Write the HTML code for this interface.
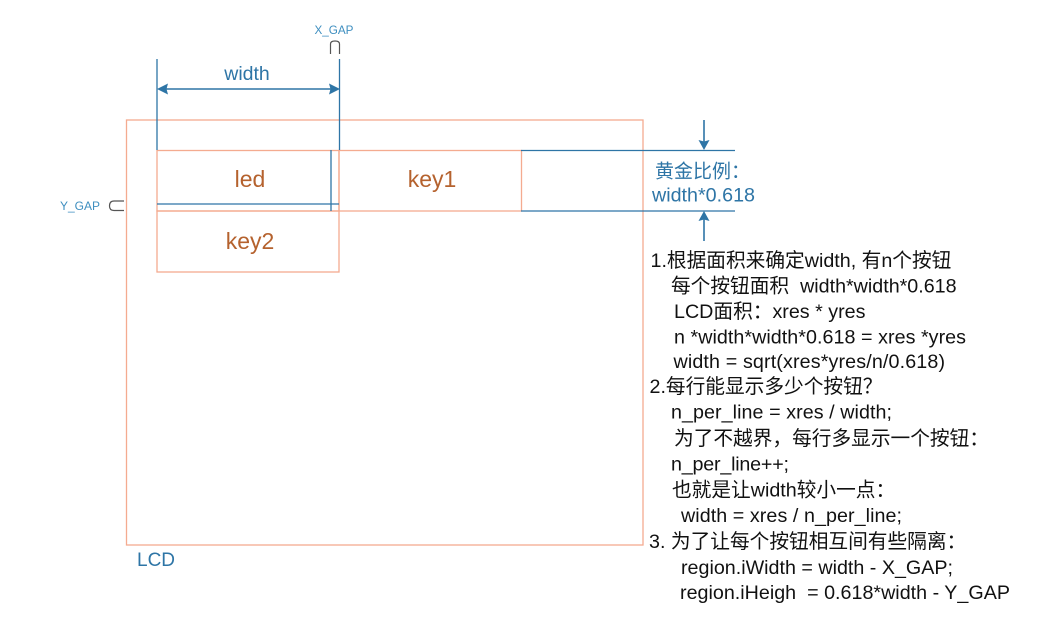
<!DOCTYPE html>
<html><head><meta charset="utf-8"><style>
html,body{margin:0;padding:0;background:#fff;width:1044px;height:634px;overflow:hidden}
svg{position:absolute;left:0;top:0}
text{font-family:"Liberation Sans","Noto Sans CJK SC",sans-serif;white-space:pre}
.b{fill:#2e75a6}.o{fill:#b5622e;font-size:23px;text-anchor:middle}
.k{fill:#111;font-size:19.7px}
</style></head><body>
<svg width="1044" height="634" viewBox="0 0 1044 634" xml:space="preserve">
<g fill="none" stroke="#f4ab90" stroke-width="1.3">
<rect x="126.500" y="120" width="516.500" height="425"/>
<rect x="157" y="150.500" width="182" height="60.500"/>
<rect x="339" y="150.500" width="182.500" height="60.500"/>
<rect x="157" y="211" width="182" height="61"/>
</g>
<g fill="none" stroke="#2e75a6" stroke-width="1.3">
<path d="M157 59V150M339.500 59V150M331 150V211M157 204H339M521 150.500H735M521 211H735"/>
<path d="M160 89H336" stroke-width="1.600"/>
<path d="M704 120V142M704 219V241" stroke-width="1.600"/>
</g>
<g fill="#2e75a6">
<path d="M157 89L168 83.500L166.500 89L168 94.500Z"/><path d="M340 89L329 83.500L330.500 89L329 94.500Z"/>
<path d="M704 150L698.500 140L704 141.500L709.500 140Z"/><path d="M704 211L698.500 221L704 219.500L709.500 221Z"/>
</g>
<g fill="none" stroke="#555" stroke-width="1.200">
<path d="M330.500 54V44Q330.500 41 335 41Q339.500 41 339.500 44V54"/>
<path d="M124 201H114Q109.500 201 109.500 206Q109.500 210.500 114 210.500H124"/>
</g>
<text x="334" y="34" text-anchor="middle" font-size="11.700" fill="#3f8fc0">X_GAP</text>
<text x="80" y="210" text-anchor="middle" font-size="12" fill="#3f8fc0">Y_GAP</text>
<text x="247" y="80" text-anchor="middle" font-size="19.500" class="b">width</text>
<text x="250" y="187" class="o">led</text>
<text x="432" y="187" class="o">key1</text>
<text x="250" y="249" class="o">key2</text>
<text x="137" y="566" font-size="19" class="b">LCD</text>
<text x="655" y="177.500" font-size="19" class="b">黄金比例：</text>
<text x="652" y="201.500" font-size="19.700" class="b" textLength="103">width*0.618</text>
<g class="k">
<text x="650.500" y="267">1.根据面积来确定width, 有n个按钮</text>
<text x="671" y="292.500">每个按钮面积  width*width*0.618</text>
<text x="674" y="318">LCD面积：xres * yres</text>
<text x="674" y="343.500" textLength="292">n *width*width*0.618 = xres *yres</text>
<text x="673.500" y="368" textLength="271.500">width = sqrt(xres*yres/n/0.618)</text>
<text x="649.500" y="393">2.每行能显示多少个按钮？</text>
<text x="671" y="418.500" textLength="221">n_per_line = xres / width;</text>
<text x="674" y="445">为了不越界，每行多显示一个按钮：</text>
<text x="671" y="470.500" textLength="118">n_per_line++;</text>
<text x="672" y="496.500">也就是让width较小一点：</text>
<text x="681" y="522" textLength="221">width = xres / n_per_line;</text>
<text x="649" y="548">3. 为了让每个按钮相互间有些隔离：</text>
<text x="681" y="574" textLength="272">region.iWidth = width - X_GAP;</text>
<text x="680" y="599" textLength="330">region.iHeigh  = 0.618*width - Y_GAP</text>
</g>
</svg>
</body></html>
